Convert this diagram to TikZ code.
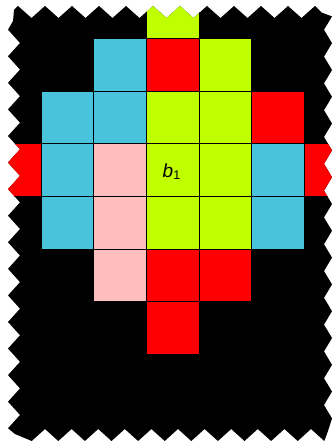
\documentclass[tikz,border=0pt]{standalone}
\usepackage{fontspec}
\setmainfont{Liberation Sans}
\definecolor{cyancell}{RGB}{72,195,219}
\definecolor{limecell}{RGB}{192,255,0}
\definecolor{redcell}{RGB}{255,0,0}
\definecolor{pinkcell}{RGB}{255,190,190}
\tikzset{
  gridcell/.style={draw=black, line width=0.9pt},
}
\newcommand{\zigpath}{(13,21) -- (14,10)
 -- (18,6) -- (31.5,18) -- (45,6) -- (58.5,18) -- (72,6) -- (85.5,18) -- (99,6) -- (112.5,18)
 -- (126,6) -- (139.5,18) -- (153,6) -- (166.5,18) -- (180,6) -- (193.5,18) -- (207,6) -- (220.5,18)
 -- (234,6) -- (247.5,18) -- (261,6) -- (274.5,18) -- (288,6) -- (301.5,18) -- (315,6) -- (321.5,12.5)
 -- (332,16.4) -- (324,29.8) -- (332,43.2) -- (324,56.6) -- (332,70) -- (324,83.4) -- (332,96.8) -- (324,110.2)
 -- (332,123.6) -- (324,137) -- (332,150.4) -- (324,163.8) -- (332,177.2) -- (324,190.6) -- (332,204) -- (324,217.4)
 -- (332,230.8) -- (324,244.2) -- (332,257.6) -- (324,271) -- (332,284.4) -- (324,297.8) -- (332,311.2) -- (324,324.6)
 -- (332,338) -- (324,351.4) -- (332,364.8) -- (324,378.2) -- (332,391.6) -- (324,405) -- (332,418.4) -- (328,431)
 -- (324.3,441) -- (311,429) -- (297.7,441) -- (284.4,429) -- (271.1,441) -- (257.8,429) -- (244.5,441) -- (231.2,429)
 -- (217.9,441) -- (204.6,429) -- (191.3,441) -- (178,429) -- (164.7,441) -- (151.4,429) -- (138.1,441) -- (124.8,429)
 -- (111.5,441) -- (98.2,429) -- (84.9,441) -- (71.6,429) -- (58.3,441) -- (45,429) -- (31.7,441) -- (15,434)
 -- (8,428.25) -- (20,414.98) -- (8,401.68) -- (20,388.41) -- (8,375.11) -- (20,361.84) -- (8,348.54) -- (20,335.27)
 -- (8,321.97) -- (20,308.7) -- (8,295.4) -- (20,282.13) -- (8,268.83) -- (20,255.56) -- (8,242.26) -- (20,228.99)
 -- (8,215.69) -- (20,202.42) -- (8,189.12) -- (20,175.85) -- (8,162.55) -- (20,149.28) -- (8,135.98) -- (20,122.71)
 -- (8,109.41) -- (20,96.14) -- (8,82.84) -- (20,69.57) -- (8,56.27) -- (20,43) -- (8,29.7) -- cycle}
\begin{document}
\begin{tikzpicture}[x=1pt,y=-1pt]
\useasboundingbox (0,0) rectangle (334,441);
\fill[black] \zigpath;
\begin{scope}
\clip \zigpath;
\foreach \j/\r/\c in {2/0/limecell,
  1/1/cyancell, 2/1/redcell, 3/1/limecell,
  0/2/cyancell, 1/2/cyancell, 2/2/limecell, 3/2/limecell, 4/2/redcell,
  -1/3/redcell, 0/3/cyancell, 1/3/pinkcell, 2/3/limecell, 3/3/limecell, 4/3/cyancell, 5/3/redcell,
  0/4/cyancell, 1/4/pinkcell, 2/4/limecell, 3/4/limecell, 4/4/cyancell,
  1/5/pinkcell, 2/5/redcell, 3/5/redcell,
  2/6/redcell}
  \path[gridcell, fill=\c] ({41+52.65*\j},{-14.1+52.65*\r}) rectangle +(52.65,52.65);
\end{scope}
\node[anchor=base west, inner sep=0pt] (b1) at (162.5,177.5)
  {{\fontsize{19}{19}\selectfont\itshape b}{\fontsize{12.5}{12.5}\selectfont\raisebox{-2.2pt}{1}}};
\end{tikzpicture}
\end{document}
